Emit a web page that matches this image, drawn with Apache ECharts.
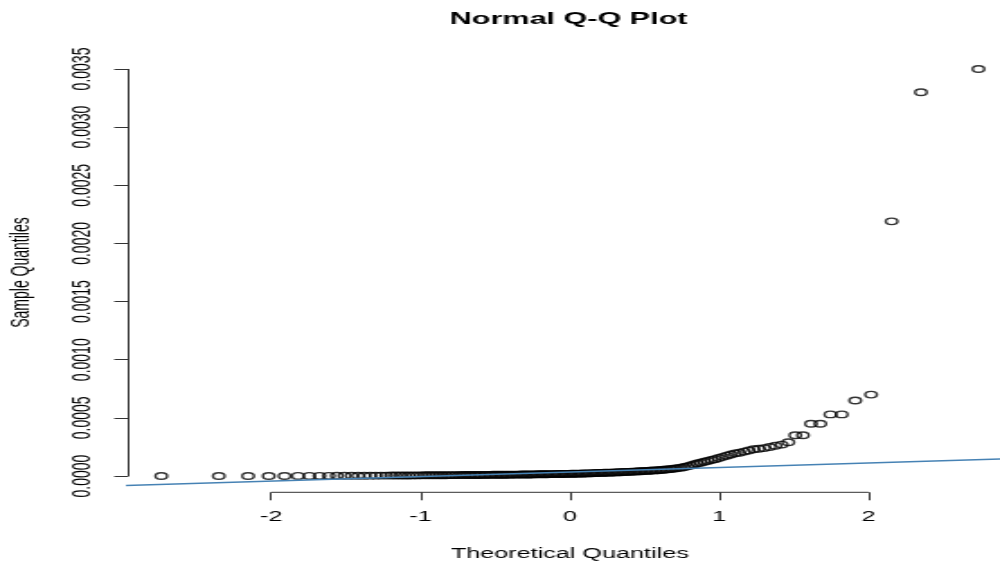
<!DOCTYPE html>
<html>
<head>
<meta charset="utf-8">
<title>Normal Q-Q Plot</title>
<script src="https://cdn.jsdelivr.net/npm/echarts@6/dist/echarts.min.js"></script>
<style>
  html, body { margin: 0; padding: 0; background: #fff; overflow: hidden; }
  /* the reference is a stretched R plot: draw narrow, then stretch sideways */
  #main { width: 556px; height: 567px; transform: scaleX(1.7986); transform-origin: 0 0; }
</style>
</head>
<body>
<div id="main"></div>
<script>
// theoretical quantiles (x)
const theoretical = [
  -2.735, -2.350, -2.154, -2.016, -1.910, -1.820, -1.744, -1.676, -1.614, -1.560,
  -1.509, -1.462, -1.418, -1.376, -1.337, -1.300, -1.264, -1.230, -1.197, -1.166,
  -1.135, -1.106, -1.078, -1.050, -1.023, -0.997, -0.971, -0.947, -0.922, -0.899,
  -0.875, -0.853, -0.830, -0.808, -0.786, -0.765, -0.745, -0.724, -0.704, -0.684,
  -0.665, -0.645, -0.626, -0.607, -0.589, -0.570, -0.552, -0.534, -0.516, -0.498,
  -0.480, -0.463, -0.446, -0.428, -0.411, -0.394, -0.377, -0.360, -0.344, -0.327,
  -0.311, -0.294, -0.278, -0.261, -0.245, -0.229, -0.213, -0.197, -0.181, -0.165,
  -0.150, -0.134, -0.118, -0.102, -0.086, -0.071, -0.055, -0.039, -0.024, -0.008,
  0.008, 0.024, 0.039, 0.055, 0.071, 0.086, 0.102, 0.118, 0.134, 0.150,
  0.165, 0.181, 0.197, 0.213, 0.229, 0.245, 0.261, 0.278, 0.294, 0.311,
  0.327, 0.344, 0.360, 0.377, 0.394, 0.411, 0.428, 0.446, 0.463, 0.480,
  0.498, 0.516, 0.534, 0.552, 0.570, 0.589, 0.607, 0.626, 0.645, 0.665,
  0.684, 0.704, 0.724, 0.745, 0.765, 0.786, 0.808, 0.830, 0.853, 0.875,
  0.899, 0.922, 0.947, 0.971, 0.997, 1.023, 1.050, 1.078, 1.106, 1.135,
  1.166, 1.197, 1.230, 1.264, 1.300, 1.337, 1.376, 1.418, 1.462, 1.509,
  1.560, 1.614, 1.676, 1.744, 1.820, 1.910, 2.016, 2.154, 2.350, 2.735
]

// sample quantiles (y)
const sample = [
  0.0000000, 0.0000002, 0.0000004, 0.0000006, 0.0000008, 0.0000010, 0.0000012, 0.0000014, 0.0000016, 0.0000018,
  0.0000020, 0.0000022, 0.0000025, 0.0000028, 0.0000030, 0.0000033, 0.0000035, 0.0000038, 0.0000040, 0.0000043,
  0.0000045, 0.0000048, 0.0000050, 0.0000053, 0.0000055, 0.0000058, 0.0000060, 0.0000062, 0.0000064, 0.0000066,
  0.0000068, 0.0000070, 0.0000072, 0.0000074, 0.0000076, 0.0000078, 0.0000080, 0.0000082, 0.0000084, 0.0000086,
  0.0000088, 0.0000090, 0.0000092, 0.0000094, 0.0000096, 0.0000098, 0.0000100, 0.0000102, 0.0000104, 0.0000106,
  0.0000108, 0.0000110, 0.0000112, 0.0000114, 0.0000116, 0.0000118, 0.0000120, 0.0000122, 0.0000124, 0.0000126,
  0.0000128, 0.0000131, 0.0000134, 0.0000137, 0.0000140, 0.0000143, 0.0000146, 0.0000149, 0.0000152, 0.0000155,
  0.0000158, 0.0000161, 0.0000164, 0.0000167, 0.0000170, 0.0000173, 0.0000176, 0.0000179, 0.0000182, 0.0000185,
  0.0000190, 0.0000195, 0.0000200, 0.0000205, 0.0000210, 0.0000215, 0.0000220, 0.0000225, 0.0000230, 0.0000240,
  0.0000247, 0.0000254, 0.0000261, 0.0000268, 0.0000275, 0.0000282, 0.0000289, 0.0000296, 0.0000303, 0.0000311,
  0.0000320, 0.0000330, 0.0000340, 0.0000350, 0.0000360, 0.0000370, 0.0000380, 0.0000392, 0.0000404, 0.0000416,
  0.0000428, 0.0000440, 0.0000455, 0.0000470, 0.0000485, 0.0000500, 0.0000520, 0.0000540, 0.0000565, 0.0000590,
  0.0000615, 0.0000645, 0.0000680, 0.0000720, 0.0000770, 0.0000830, 0.0000900, 0.0001000, 0.0001080, 0.0001150,
  0.0001230, 0.0001300, 0.0001380, 0.0001450, 0.0001550, 0.0001650, 0.0001750, 0.0001850, 0.0001950, 0.0002000,
  0.0002100, 0.0002200, 0.0002300, 0.0002350, 0.0002400, 0.0002500, 0.0002600, 0.0002700, 0.0002900, 0.0003500,
  0.0003500, 0.0004500, 0.0004500, 0.0005300, 0.0005300, 0.0006500, 0.0007000, 0.0021900, 0.0033000, 0.0035000
]

// qqline end points
const lineX = [-3, 3]
const lineY = [-0.0000816, 0.000151]

// axes
const xTicks = [-2, -1, 0, 1, 2]
const yTicks = [0, 0.0005, 0.001, 0.0015, 0.002, 0.0025, 0.003, 0.0035]
const xRange = [-2.954, 2.954]
const yRange = [-0.00014, 0.00364]

const font = 'Liberation Sans, Arial, sans-serif'
const axisColor = '#333'

const chart = echarts.init(document.getElementById('main'))

chart.setOption({
  animation: false,
  textStyle: { fontFamily: font },
  title: {
    text: 'Normal Q-Q Plot',
    left: 250,
    top: 11,
    padding: 0,
    textStyle: { fontSize: 17, fontWeight: 'bold', color: '#000', fontFamily: font }
  },
  grid: {
    left: 71.5,
    right: -6.2,
    top: 52.7,
    bottom: 74.7,
    outerBoundsMode: 'none'
  },
  xAxis: {
    type: 'value',
    min: xRange[0],
    max: xRange[1],
    name: 'Theoretical Quantiles',
    nameLocation: 'middle',
    nameGap: 55,
    nameTextStyle: { fontSize: 14, color: '#000' },
    axisLine: { show: false, onZero: false },
    splitLine: { show: false },
    axisTick: {
      show: true,
      customValues: xTicks,
      length: 8,
      lineStyle: { color: axisColor, width: 1 }
    },
    axisLabel: {
      customValues: xTicks,
      margin: 18,
      fontSize: 14,
      color: '#000',
      formatter: v => String(v)
    }
  },
  yAxis: {
    type: 'value',
    min: yRange[0],
    max: yRange[1],
    name: 'Sample Quantiles',
    nameLocation: 'middle',
    nameGap: 52,
    nameTextStyle: { fontSize: 14, color: '#000' },
    axisLine: { show: false, onZero: false },
    splitLine: { show: false },
    axisTick: {
      show: true,
      customValues: yTicks,
      length: 8,
      lineStyle: { color: axisColor, width: 1 }
    },
    axisLabel: {
      customValues: yTicks,
      rotate: 90,
      margin: 18,
      fontSize: 14,
      color: '#000',
      formatter: v => v.toFixed(4)
    }
  },
  series: [
    {
      name: 'points',
      type: 'scatter',
      symbol: 'circle',
      symbolSize: 6.5,
      silent: true,
      itemStyle: { color: 'rgba(0,0,0,0)', borderColor: '#000', borderWidth: 1.4 },
      data: theoretical.map((x, i) => [x, sample[i]]),
      z: 2
    },
    {
      name: 'qqline',
      type: 'line',
      symbol: 'none',
      silent: true,
      lineStyle: { color: '#4682B4', width: 1.5 },
      data: lineX.map((x, i) => [x, lineY[i]]),
      z: 3
    },
    // R style axis lines, only as long as the tick range
    {
      type: 'line',
      symbol: 'none',
      silent: true,
      clip: false,
      lineStyle: { color: axisColor, width: 1 },
      data: [[xTicks[0], yRange[0]], [xTicks[xTicks.length - 1], yRange[0]]]
    },
    {
      type: 'line',
      symbol: 'none',
      silent: true,
      clip: false,
      lineStyle: { color: axisColor, width: 1 },
      data: [[xRange[0], yTicks[0]], [xRange[0], yTicks[yTicks.length - 1]]]
    }
  ]
})
</script>
</body>
</html>
